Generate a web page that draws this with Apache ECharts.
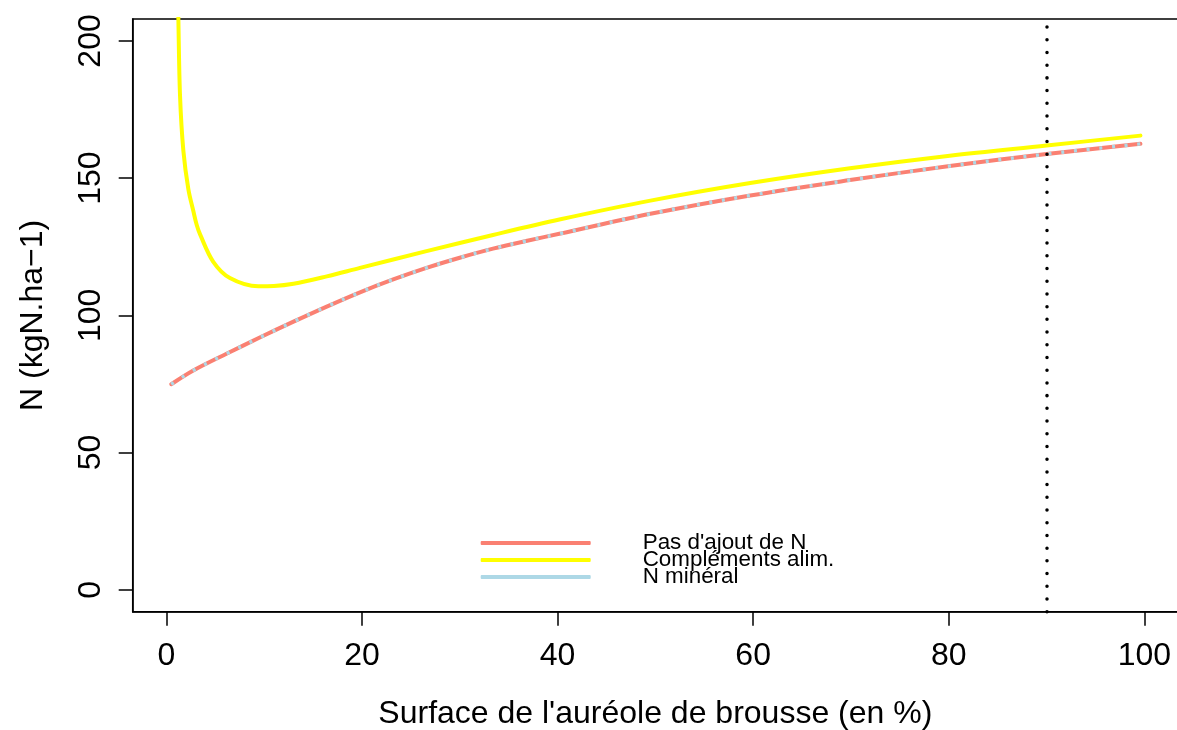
<!DOCTYPE html>
<html><head><meta charset="utf-8">
<script src="https://cdn.jsdelivr.net/npm/echarts@6/dist/echarts.min.js"></script>
<style>html,body{margin:0;padding:0;background:#fff}#c{width:1177px;height:730px}</style>
</head><body><div id="c"></div>
<script>
const seriesNames = ["Pas d'ajout de N", "Compléments alim.", "N minéral"];
const xTicks = [0, 20, 40, 60, 80, 100];
const yTicks = [0, 50, 100, 150, 200];
const refLineX = [90];

// Pas d'ajout de N
const baseX = [0.5, 2.8, 6.2, 9.6, 13.0, 16.4, 19.8, 23.2, 26.6, 30.0, 33.4, 36.9, 40.3, 49.5, 59.7, 69.9, 80.1, 90.0, 99.6];
const baseY = [74.9, 80.0, 86.1, 92.0, 97.7, 103.2, 108.4, 113.1, 117.3, 121.0, 124.3, 127.2, 129.8, 137.0, 143.7, 149.3, 154.4, 158.8, 162.5];
// Compléments alim.
const complX = [1.1, 1.23, 1.4, 1.74, 2.25, 2.76, 3.1, 3.45, 4.8, 6.5, 9.4, 11.0, 13.0, 16.4, 19.8, 26.6, 33.4, 40.3, 49.5, 59.7, 69.9, 80.1, 90.0, 99.6];
const complY = [235, 208, 180, 160, 146, 138, 133, 129.5, 119.5, 113.6, 110.6, 110.7, 111.5, 114.2, 117.3, 123.4, 129.3, 135.0, 141.8, 148.2, 153.6, 158.2, 161.9, 165.5];
// N minéral (superposé à la première courbe)
const minerX = [0.5, 2.8, 6.2, 9.6, 13.0, 16.4, 19.8, 23.2, 26.6, 30.0, 33.4, 36.9, 40.3, 49.5, 59.7, 69.9, 80.1, 90.0, 99.6];
const minerY = [74.9, 80.0, 86.1, 92.0, 97.7, 103.2, 108.4, 113.1, 117.3, 121.0, 124.3, 127.2, 129.8, 137.0, 143.7, 149.3, 154.4, 158.8, 162.5];

const colors = ['#FA8072', '#FFFF00', '#ADD8E6'];
const FONT = "'Liberation Sans', Arial, Helvetica, sans-serif";
const zip = (xs, ys) => xs.map((x, i) => [x, ys[i]]);

const chart = echarts.init(document.getElementById('c'), null, {renderer: 'canvas'});
chart.setOption({
  animation: false,
  backgroundColor: '#fff',
  textStyle: {fontFamily: FONT},
  grid: {left: 132.7, top: 19, bottom: 118.3, width: 1045.3, show: true, borderColor: '#000', borderWidth: 1.5,
         containLabel: false, outerBoundsMode: 'none'},
  xAxis: {
    type: 'value', min: -3.44, max: 103.44,
    splitLine: {show: false},
    axisLine: {show: true, onZero: false, lineStyle: {color: '#000', width: 1.5}},
    axisTick: {show: true, inside: false, length: 14, lineStyle: {color: '#000', width: 1.5}, customValues: xTicks},
    axisLabel: {color: '#000', fontSize: 32, fontFamily: FONT, margin: 28, customValues: xTicks, formatter: v => String(v)},
    name: "Surface de l'auréole de brousse (en %)",
    nameLocation: 'middle', nameGap: 86,
    nameTextStyle: {color: '#000', fontSize: 32, fontFamily: FONT}
  },
  yAxis: {
    type: 'value', min: -8, max: 208,
    splitLine: {show: false},
    axisLine: {show: true, onZero: false, lineStyle: {color: '#000', width: 1.5}},
    axisTick: {show: true, inside: false, length: 14, lineStyle: {color: '#000', width: 1.5}, customValues: yTicks},
    axisLabel: {color: '#000', fontSize: 32, fontFamily: FONT, margin: 26, rotate: 90, customValues: yTicks, formatter: v => String(v)},
    name: 'N (kgN.ha\u22121)',
    nameLocation: 'middle', nameGap: 84,
    nameTextStyle: {color: '#000', fontSize: 32, fontFamily: FONT}
  },
  legend: {
    orient: 'vertical', left: 480.7, top: 532, padding: 0, itemGap: -5,
    itemWidth: 110, itemHeight: 4, icon: 'roundRect',
    textStyle: {color: '#000', fontSize: 22.4, fontFamily: FONT, padding: [0, 0, 0, 47]},
    data: seriesNames.map((n, i) => ({name: n, itemStyle: {color: colors[i]}}))
  },
  series: [
    {
      name: seriesNames[0], type: 'line', data: zip(baseX, baseY), showSymbol: false, symbol: 'none',
      smooth: 0.35, color: colors[0],
      lineStyle: {color: colors[0], width: 4, cap: 'round'}, z: 2,
      markLine: {
        silent: true, symbol: ['none', 'none'], label: {show: false},
        lineStyle: {color: '#000', width: 3.5, type: [0.01, 12.7], cap: 'round'},
        data: refLineX.map(v => ({xAxis: v}))
      }
    },
    {
      name: seriesNames[1], type: 'line', data: zip(complX, complY), showSymbol: false, symbol: 'none',
      smooth: 0.35, color: colors[1], clip: true,
      lineStyle: {color: colors[1], width: 4, cap: 'round'}, z: 3
    },
    {
      name: seriesNames[2], type: 'line', data: zip(minerX, minerY), showSymbol: false, symbol: 'none',
      smooth: 0.35, color: colors[2],
      lineStyle: {color: colors[2], width: 3.5, type: [3, 9.7]}, z: 4
    }
  ]
});
</script></body></html>
